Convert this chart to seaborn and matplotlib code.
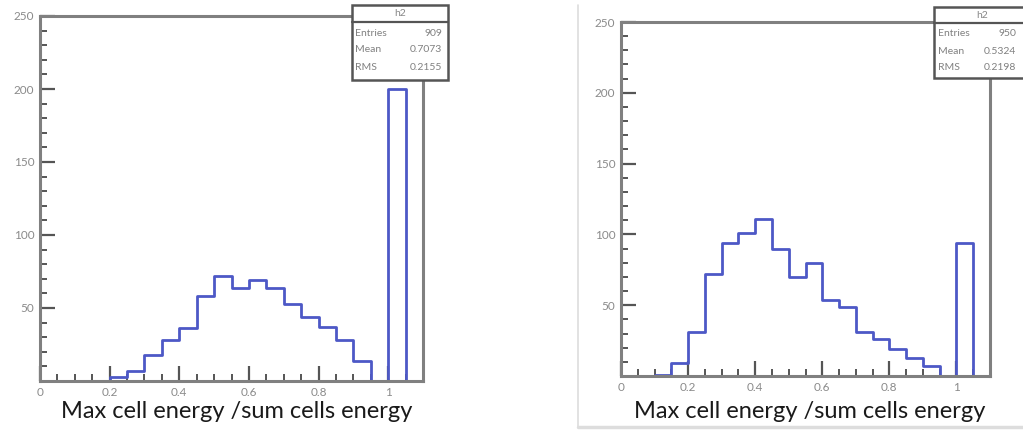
import numpy as np
import matplotlib
matplotlib.use("Agg")
import matplotlib.pyplot as plt
from matplotlib.patches import Rectangle
from matplotlib.lines import Line2D
from matplotlib.ticker import MultipleLocator
import seaborn as sns

# Histogram binning: 22 bins of width 0.05 over [0, 1.1]
bin_edges = [round(0.05 * i, 2) for i in range(23)]
bin_centers = [round(0.025 + 0.05 * i, 3) for i in range(22)]

# Bin contents, first sample
counts_a = [0, 0, 0, 0, 3, 7, 18, 28, 36, 58, 72, 64, 69, 64, 53, 44, 37, 28, 14, 0, 200, 0]
# Bin contents, second sample
counts_b = [0, 0, 1, 9, 31, 72, 94, 101, 111, 90, 70, 80, 54, 49, 31, 26, 19, 13, 7, 0, 94, 0]

stats_a = {"name": "h2", "Entries": "909", "Mean": "0.7073", "RMS": "0.2155"}
stats_b = {"name": "h2", "Entries": "950", "Mean": "0.5324", "RMS": "0.2198"}

x_label = "Max cell energy /sum cells energy"
x_ticks = [0, 0.2, 0.4, 0.6, 0.8, 1]
x_tick_labels = ["0", "0.2", "0.4", "0.6", "0.8", "1"]
y_ticks = [50, 100, 150, 200, 250]
y_tick_labels = ["50", "100", "150", "200", "250"]

sns.set_style("white")
plt.rcParams["font.family"] = ["Lato", "DejaVu Sans"]

W, H = 1023, 430
fig = plt.figure(figsize=(W / 100, H / 100), dpi=100)
fig.patch.set_facecolor("white")

line_color = "#4d58c6"
frame_color = "#808080"


def px_axes(left, top, right, bottom):
    return fig.add_axes([left / W, 1 - bottom / H, (right - left) / W, (bottom - top) / H])


def draw_panel(ax, counts, xlabel_x):
    sns.histplot(x=bin_centers, weights=counts, bins=bin_edges, element="step",
                 fill=False, color=line_color, linewidth=2.0, ax=ax)
    ax.set_xlim(0, 1.1)
    ax.set_ylim(0, 250)
    ax.set_xlabel("")
    ax.set_ylabel("")
    for s in ax.spines.values():
        s.set_color(frame_color)
        s.set_linewidth(2.2)
    ax.set_xticks(x_ticks)
    ax.set_xticklabels(x_tick_labels)
    ax.set_yticks(y_ticks)
    ax.set_yticklabels(y_tick_labels)
    ax.xaxis.set_minor_locator(MultipleLocator(0.05))
    ax.yaxis.set_minor_locator(MultipleLocator(10))
    ax.tick_params(axis="both", which="major", direction="in", length=11, width=1.6,
                   color="#555555", labelsize=8.5, labelcolor="#8a8a8a", pad=4)
    ax.tick_params(axis="both", which="minor", direction="in", length=5, width=1.4,
                   color="#555555")
    ax.tick_params(axis="x", which="both", bottom=True, top=False)
    ax.tick_params(axis="y", which="both", left=True, right=False)
    fig.text(xlabel_x / W, 1 - 411 / H, x_label, ha="center", va="center",
             fontsize=17, color="#1a1a1a")


def stats_box(left, top, right, bottom, header_y, rows_y, lab_x, val_x, stats):
    tr = fig.transFigure
    fig.patches.append(Rectangle((left / W, 1 - bottom / H), (right - left) / W,
                                 (bottom - top) / H, transform=tr, facecolor="white",
                                 edgecolor="#555555", linewidth=1.8, zorder=5))
    fig.lines.append(Line2D([left / W, right / W], [1 - header_y / H] * 2, transform=tr,
                            color="#555555", linewidth=1.6, zorder=6))
    fig.text((left + right) / 2 / W, 1 - (top + header_y) / 2 / H, stats["name"],
             ha="center", va="center", fontsize=7.5, color="#888888", zorder=7)
    for key, y in zip(["Entries", "Mean", "RMS"], rows_y):
        fig.text(lab_x / W, 1 - y / H, key, ha="left", va="center", fontsize=7.5,
                 color="#808080", zorder=7)
        fig.text(val_x / W, 1 - y / H, stats[key], ha="right", va="center", fontsize=7.5,
                 color="#808080", zorder=7)


ax1 = px_axes(40, 16, 423, 381)
draw_panel(ax1, counts_a, 237)
stats_box(352, 5, 448, 80, 22, [33, 50, 68], 355, 442, stats_a)

ax2 = px_axes(621, 22, 990, 376)
draw_panel(ax2, counts_b, 810)
stats_box(934, 7, 1030, 78, 23, [33, 51, 68], 938, 1016, stats_b)

# light frame around the second panel
tr = fig.transFigure
fig.lines.append(Line2D([578 / W, 578 / W], [1 - 5 / H, 1 - 427 / H], transform=tr,
                        color="#dddddd", linewidth=1.2))
fig.lines.append(Line2D([578 / W, 1.0], [1 - 427 / H, 1 - 427 / H], transform=tr,
                        color="#dddddd", linewidth=2.5))

fig.savefig("out.png", dpi=100, facecolor="white")
